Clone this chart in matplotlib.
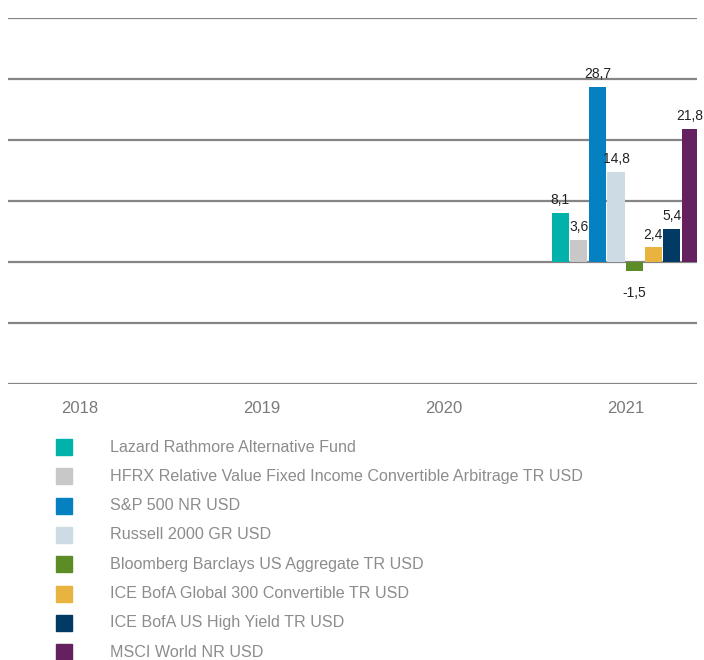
import numpy as np
import matplotlib.pyplot as plt
from matplotlib.patches import Rectangle

plt.rcParams['font.family'] = ['Liberation Sans', 'DejaVu Sans']

# chart data
years = ['2018', '2019', '2020', '2021']
series_names = [
    'Lazard Rathmore Alternative Fund',
    'HFRX Relative Value Fixed Income Convertible Arbitrage TR USD',
    'S&P 500 NR USD',
    'Russell 2000 GR USD',
    'Bloomberg Barclays US Aggregate TR USD',
    'ICE BofA Global 300 Convertible TR USD',
    'ICE BofA US High Yield TR USD',
    'MSCI World NR USD',
]
# only 2021 has values; earlier years are empty
values_2021 = [8.1, 3.6, 28.7, 14.8, -1.5, 2.4, 5.4, 21.8]
colors = ['#00b2a9', '#c8c8c8', '#0580c0', '#cddbe5',
          '#5b8c25', '#e8b33e', '#023a66', '#64205f']
y_ticks = [-20, -10, 0, 10, 20, 30, 40]


def make_chart():
    fig = plt.figure(figsize=(7.04, 6.6), dpi=100)
    ax = fig.add_axes([0.0114, 0.418, 0.979, 0.555])

    x = np.arange(len(years))
    n = len(series_names)
    slot = 0.102
    width = 0.094

    # horizontal grid lines
    for t in y_ticks:
        ax.axhline(t, color='#858585', lw=1.6, zorder=1)

    for i, (name, col) in enumerate(zip(series_names, colors)):
        vals = [np.nan, np.nan, np.nan, values_2021[i]]
        xpos = x + (i - (n - 1) / 2) * slot
        ax.bar(xpos, vals, width=width, color=col, zorder=3)
        v = values_2021[i]
        lab = f'{v:.1f}'.replace('.', ',')
        if v >= 0:
            ax.annotate(lab, (xpos[3], v), xytext=(0, 4), textcoords='offset points',
                        ha='center', va='bottom', fontsize=10, color='#222222', zorder=4)
        else:
            ax.annotate(lab, (xpos[3], v), xytext=(0, -11), textcoords='offset points',
                        ha='center', va='top', fontsize=10, color='#222222', zorder=4)

    ax.set_xlim(-0.396, 3.396)
    ax.set_ylim(-20, 40)
    ax.set_xticks(x)
    ax.set_xticklabels(years, fontsize=12, color='#7a7a7a')
    ax.tick_params(axis='x', length=0, pad=12)
    ax.set_yticks([])
    for s in ax.spines.values():
        s.set_visible(False)

    # legend drawn as squares and text, one row per series
    row0 = 447
    step = 29.3
    for i, (name, col) in enumerate(zip(series_names, colors)):
        yc = 1 - (row0 + i * step) / 660
        fig.add_artist(Rectangle((56 / 704, yc - 8 / 660), 16 / 704, 16 / 660,
                                 transform=fig.transFigure, color=col))
        fig.text(110 / 704, yc, name, fontsize=11.6, color='#8c8c8c', va='center', ha='left')

    fig.savefig('out.png', dpi=100)


if __name__ == "__main__":
    make_chart()
